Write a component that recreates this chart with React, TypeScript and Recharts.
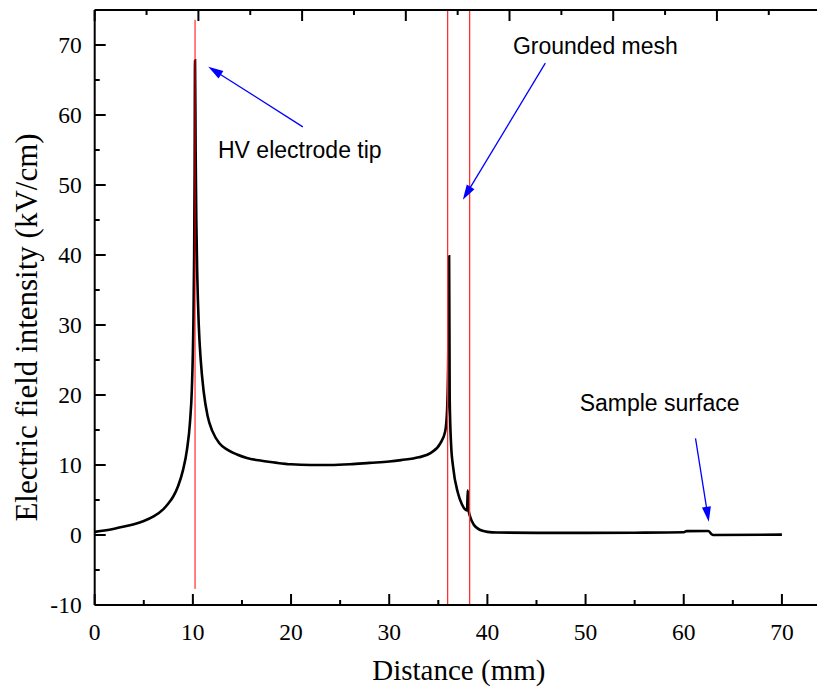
import { LineChart, Line, XAxis, YAxis, ReferenceLine, ReferenceDot, Label } from "recharts";

const distance = [
  0, 1, 2, 3, 4, 5, 6, 7, 7.5, 8, 8.5, 9, 9.4, 9.7, 9.9, 10.05, 10.13, 10.18, 10.22,
  10.28, 10.35, 10.45, 10.6, 10.8, 11.1, 11.5, 12.0, 12.7, 13.5, 14.5, 15.5, 17, 18.6,
  20, 22, 24, 26, 28, 30, 31.2, 33, 34.2, 35.2, 35.7, 35.9, 36.0, 36.06, 36.1,
  36.16, 36.3, 36.5, 37.0, 37.4, 37.7, 37.93, 38.0, 38.05, 38.25, 38.6, 39.0, 39.5,
  40, 41, 45, 50, 55, 60, 60.3, 62.5, 62.85, 63, 70,
];
const field = [
  0.45, 0.65, 0.9, 1.2, 1.55, 2.0, 2.65, 3.7, 4.5, 5.5, 7.0, 9.3, 12.2, 16, 21, 30, 40, 52, 67.8,
  55, 45, 37, 30, 25, 20.5, 17, 14.8, 13.1, 12.2, 11.5, 11.0, 10.6, 10.3,
  10.1, 10.0, 10.0, 10.1, 10.3, 10.5, 10.7, 11.1, 11.7, 13.1, 14.8, 18, 24, 32, 39.8,
  19.5, 13, 9.8, 6.0, 4.4, 3.7, 3.5, 6.4, 3.8, 2.6, 1.5, 0.95, 0.6,
  0.45, 0.35, 0.3, 0.3, 0.33, 0.4, 0.55, 0.57, 0.1, 0.0, 0.05,
];

const xTicks = [0, 5, 10, 15, 20, 25, 30, 35, 40, 45, 50, 55, 60, 65, 70, 75];
const yTicks = [-10, -5, 0, 5, 10, 15, 20, 25, 30, 35, 40, 45, 50, 55, 60, 65, 70, 75];

// electrode / mesh positions (mm)
const tipX = 10.22;
const meshX = [35.95, 38.19];

const annotations = [
  { text: "HV electrode tip", x: 12.56, y: 55, from: { x: 21.2, y: 58.3 }, to: { x: 11.57, y: 66.9 } },
  { text: "Grounded mesh", x: 42.6, y: 69.9, from: { x: 45.9, y: 67.4 }, to: { x: 37.5, y: 47.9 } },
  { text: "Sample surface", x: 49.4, y: 18.9, from: { x: 61.2, y: 13.8 }, to: { x: 62.55, y: 1.9 } },
];

const data = distance.map((x, i) => ({ x, e: field[i] }));

const serif = "'Liberation Serif', 'Times New Roman', serif";
const sans = "'Liberation Sans', Arial, sans-serif";

const isMajor = (v: number) => v % 10 === 0;

const BottomTick = (p: any) => {
  const v = p.payload.value;
  const len = isMajor(v) ? 11 : 5;
  return (
    <g>
      <line x1={p.x} x2={p.x} y1={p.y} y2={p.y - len} stroke="#000" strokeWidth={2} />
      {isMajor(v) && v <= 70 && (
        <text x={p.x} y={p.y + 35} textAnchor="middle" fontFamily={serif} fontSize={23.5} fill="#000">
          {v}
        </text>
      )}
    </g>
  );
};

const TopTick = (p: any) => {
  const len = isMajor(p.payload.value) ? 11 : 5;
  return <line x1={p.x} x2={p.x} y1={p.y} y2={p.y + len} stroke="#000" strokeWidth={2} />;
};

const LeftTick = (p: any) => {
  const v = p.payload.value;
  const len = isMajor(v) ? 11 : 5;
  return (
    <g>
      <line x1={p.x} x2={p.x + len} y1={p.y} y2={p.y} stroke="#000" strokeWidth={2} />
      {isMajor(v) && (
        <text x={p.x - 13} y={p.y + 8} textAnchor="end" fontFamily={serif} fontSize={23.5} fill="#000">
          {v}
        </text>
      )}
    </g>
  );
};

const RightTick = (p: any) => {
  const len = isMajor(p.payload.value) ? 11 : 5;
  return <line x1={p.x} x2={p.x - len} y1={p.y} y2={p.y} stroke="#000" strokeWidth={2} />;
};

const Arrow = (p: any) => {
  const { x1, y1, x2, y2 } = p;
  const dx = x2 - x1;
  const dy = y2 - y1;
  const d = Math.sqrt(dx * dx + dy * dy) || 1;
  const ux = dx / d;
  const uy = dy / d;
  const L = 15;
  const W = 4.5;
  const bx = x2 - ux * L;
  const by = y2 - uy * L;
  return (
    <g>
      <line x1={x1} y1={y1} x2={bx + ux * 2} y2={by + uy * 2} stroke="#0000ff" strokeWidth={1.3} />
      <polygon
        points={`${x2},${y2} ${bx - uy * W},${by + ux * W} ${bx + uy * W},${by - ux * W}`}
        fill="#0000ff"
      />
    </g>
  );
};

const axisLine = { stroke: "#000", strokeWidth: 2 };

export default function App() {
  return (
    <div style={{ width: 817, height: 684, overflow: "hidden", background: "#fff" }}>
      <LineChart
        width={840}
        height={684}
        data={data}
        margin={{ top: 1, right: 16, bottom: 47, left: 26.7 }}
      >
        <XAxis
          dataKey="x"
          type="number"
          domain={[0, 75]}
          ticks={xTicks}
          interval={0}
          height={40}
          tickSize={0}
          tickMargin={0}
          tickLine={false}
          axisLine={axisLine}
          tick={<BottomTick />}
        >
          <Label
            content={(props: any) => {
              const vb = props.viewBox;
              return (
                <text
                  x={vb.x + vb.width / 2 - 4}
                  y={672}
                  textAnchor="middle"
                  fontFamily={serif}
                  fontSize={29}
                  fill="#000"
                >
                  Distance (mm)
                </text>
              );
            }}
          />
        </XAxis>
        <XAxis
          xAxisId="top"
          orientation="top"
          type="number"
          domain={[0, 75]}
          ticks={xTicks}
          interval={0}
          height={1}
          tickSize={0}
          tickMargin={0}
          tickLine={false}
          axisLine={axisLine}
          tick={<TopTick />}
        />
        <YAxis
          type="number"
          domain={[-10, 75]}
          ticks={yTicks}
          interval={0}
          width={60}
          tickSize={0}
          tickMargin={0}
          tickLine={false}
          axisLine={axisLine}
          tick={<LeftTick />}
        >
          <Label
            content={(props: any) => {
              const vb = props.viewBox;
              const cy = vb.y + vb.height / 2 + 20;
              return (
                <text
                  x={18}
                  y={cy}
                  transform={`rotate(-90, 18, ${cy})`}
                  textAnchor="middle"
                  dominantBaseline="central"
                  fontFamily={serif}
                  fontSize={31}
                  fill="#000"
                >
                  Electric field intensity (kV/cm)
                </text>
              );
            }}
          />
        </YAxis>
        <YAxis
          yAxisId="right"
          orientation="right"
          type="number"
          domain={[-10, 75]}
          ticks={yTicks}
          interval={0}
          width={1}
          tickSize={0}
          tickMargin={0}
          tickLine={false}
          axisLine={axisLine}
          tick={<RightTick />}
        />
        <Line
          dataKey="e"
          type="monotone"
          stroke="#000"
          strokeWidth={2.6}
          dot={false}
          isAnimationActive={false}
        />
        <ReferenceLine
          segment={[
            { x: tipX, y: -7.7 },
            { x: tipX, y: 73.6 },
          ]}
          stroke="#ff0000"
          strokeWidth={1}
        />
        {meshX.map((m) => (
          <ReferenceLine key={m} x={m} stroke="#ff3030" strokeWidth={1.3} />
        ))}
        {annotations.map((a) => (
          <ReferenceLine
            key={a.text + "-arrow"}
            segment={[a.from, a.to]}
            shape={<Arrow />}
          />
        ))}
        {annotations.map((a) => (
          <ReferenceDot
            key={a.text}
            x={a.x}
            y={a.y}
            r={0}
            shape={(p: any) => (
              <text
                x={p.cx}
                y={p.cy}
                dominantBaseline="central"
                fontFamily={sans}
                fontSize={23}
                fill="#000"
              >
                {a.text}
              </text>
            )}
          />
        ))}
      </LineChart>
    </div>
  );
}
